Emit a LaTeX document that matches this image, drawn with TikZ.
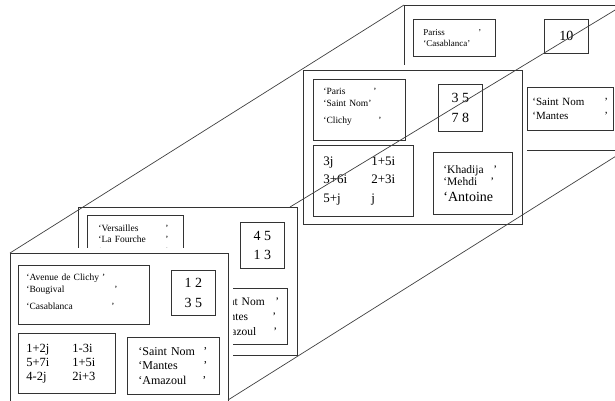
\documentclass[tikz,border=0pt]{standalone}
\usepackage{fontspec}
\setmainfont{Liberation Serif}
\usetikzlibrary{positioning}

% font sizes used in the boxes
\newcommand{\addrfont}{\fontsize{9.5}{11.5}\selectfont}
\newcommand{\numfont}{\fontsize{14}{19.5}\selectfont}
\newcommand{\cplxfont}{\fontsize{12.5}{14}\selectfont}

\tikzset{
  page/.style={draw=black!80, fill=white, line width=0.8pt, anchor=north west,
    inner sep=0pt, minimum width=219pt, preaction={draw=white, line width=10pt}},
  cell/.style={draw=black!80, line width=0.8pt, anchor=north west, align=left, inner ysep=0pt},
  numcell/.style={draw=black!80, line width=0.8pt, anchor=north west, align=center,
    inner sep=0pt, minimum width=44pt, font=\numfont},
  edge/.style={draw=black!75, line width=0.7pt}
}

\begin{document}
\begin{tikzpicture}[x=1pt, y=-1pt]
\useasboundingbox (0,0) rectangle (615,400);
\clip (0,0) rectangle (615,400);

% back page
\node[page, minimum height=145pt] (pageC) at (404,5) {};
\node[cell, inner xsep=10pt, text width=62pt, minimum height=37pt, font=\fontsize{9}{11.6}\selectfont]
  (addrC) at (413,19) {\makebox[55pt][l]{Pariss}’\\‘Casablanca’};
\node[numcell, minimum height=34pt] (numC) at (544,19) {10};
\node[cell, inner xsep=5pt, text width=76pt, minimum height=43pt, font=\fontsize{11}{14.5}\selectfont]
  (nameC) at (527,87) {\makebox[72pt][l]{‘Saint Nom}’\\\makebox[72pt][l]{‘Mantes}’};

% third page
\node[page, minimum height=154pt] (pageM) at (303,70) {};
\node[cell, inner xsep=10pt, text width=72pt, minimum height=61pt, font=\addrfont]
  (addrM) at (313,79) {\makebox[50pt][l]{‘Paris}’\\‘Saint Nom’\\[6pt]\makebox[55pt][l]{‘Clichy}’\rule[-8pt]{0pt}{8pt}};
\node[numcell, minimum height=47pt] (numM) at (438,84) {3 5\\7 8};
\node[cell, inner xsep=10pt, text width=80pt, minimum height=71pt, font=\fontsize{13}{18.5}\selectfont]
  (cplxM) at (313,145) {\makebox[48pt][l]{3j}1+5i\\\makebox[48pt][l]{3+6i}2+3i\\\makebox[48pt][l]{5+j}j};
\node[cell, inner xsep=10pt, text width=59pt, minimum height=62pt, font=\fontsize{11.5}{12.5}\selectfont]
  (nameM) at (433,152) {\makebox[50pt][l]{‘Khadija}’\\\makebox[47pt][l]{‘Mehdi}’\\[3pt]{\fontsize{14}{16}\selectfont ‘Antoine}};

% second page
\node[page, minimum height=148pt] (pageB) at (78,207) {};
\node[cell, inner xsep=11pt, text width=74pt, minimum height=48pt, font=\addrfont]
  (addrB) at (87,215) {\makebox[67pt][l]{‘Versailles}’\\\makebox[67pt][l]{‘La Fourche}’\\\makebox[67pt][l]{‘}’};
\node[numcell, minimum height=46pt] (numB) at (240,222) {4 5\\1 3};
\node[cell, inner xsep=15pt, text width=62pt, minimum height=56pt, font=\fontsize{11.5}{15}\selectfont]
  (nameB) at (195,288) {\makebox[65pt][l]{‘Saint Nom}’\\\makebox[62pt][l]{‘Mantes}’\\\makebox[63pt][l]{‘Amazoul}’};

% front page
\node[page, minimum width=218pt, minimum height=150pt] (pageA) at (10,253) {};
\node[cell, inner xsep=8pt, text width=115pt, minimum height=59pt, font=\addrfont]
  (addrA) at (18,265) {‘Avenue de Clichy ’\\\makebox[88pt][l]{‘Bougival}’\\[6pt]\makebox[85pt][l]{‘Casablanca}’\rule[-6pt]{0pt}{6pt}};
\node[numcell, minimum height=45pt] (numA) at (171,270) {1 2\\3 5};
\node[cell, inner xsep=8pt, text width=81pt, minimum height=60pt, font=\cplxfont]
  (cplxA) at (18,333) {\makebox[46pt][l]{1+2j}1-3i\\\makebox[46pt][l]{5+7i}1+5i\\\makebox[46pt][l]{4-2j}2i+3};
\node[cell, inner xsep=11pt, text width=70pt, minimum height=57pt, font=\fontsize{12}{14.5}\selectfont]
  (nameA) at (127,337) {\makebox[65pt][l]{‘Saint Nom}’\\\makebox[65pt][l]{‘Mantes}’\\\makebox[64pt][l]{‘Amazoul}’};

% depth lines
\coordinate (trB) at (290,207);
\coordinate (trC) at (630,1);
\coordinate (brA) at (228,400);
\coordinate (brC) at (640,141);
\draw[edge] (pageA.north west) -- (pageC.north west);
\draw[edge] (trB) -- (trC);
\draw[edge] (brA) -- (brC);

\end{tikzpicture}
\end{document}
